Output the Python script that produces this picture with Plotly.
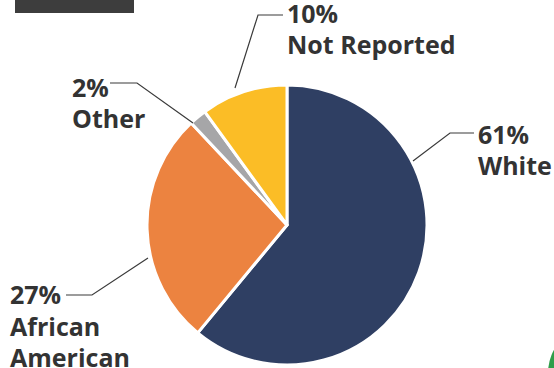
import plotly.graph_objects as go

W, H = 554, 368

# data
groups = ["White", "African American", "Other", "Not Reported"]
shares = [61, 27, 2, 10]
slice_colors = ["#2f3f63", "#ec8340", "#a6a6a8", "#fbbd26"]

# label lines, left x of each label and the vertical centre of each line (pixels)
label_lines = [["61%", "White"], ["27%", "African", "American"], ["2%", "Other"], ["10%", "Not Reported"]]
label_x = [477, 9, 71, 286]
label_y = [[135, 166], [295, 327, 358], [88, 119], [14, 45]]

# leader lines (pixels)
leaders = [
    [(413, 161), (450, 133), (474, 133)],
    [(148, 258), (92, 295), (66, 295)],
    [(193, 123), (137, 83), (110, 83)],
    [(235, 88), (258, 15), (283, 15)],
]


def px(x):
    return x / W


def py(y):
    return 1 - y / H


fig = go.Figure()

fig.add_trace(go.Pie(
    labels=groups,
    values=shares,
    sort=False,
    direction="clockwise",
    rotation=0,
    marker=dict(colors=slice_colors, line=dict(color="white", width=3)),
    textinfo="none",
    hoverinfo="label+percent",
    domain=dict(x=[px(147), px(427)], y=[py(365), py(85)]),
    showlegend=False,
))

shapes = []
for pts in leaders:
    path = "M " + " L ".join(f"{px(x)},{py(y)}" for x, y in pts)
    shapes.append(dict(type="path", xref="paper", yref="paper", path=path,
                       line=dict(color="#3a3a3a", width=1.2)))

# cropped bits from the original graphic
shapes.append(dict(type="rect", xref="paper", yref="paper",
                   x0=px(15), x1=px(134), y0=py(13), y1=1.0,
                   fillcolor="#3d3d3d", line=dict(width=0)))
shapes.append(dict(type="circle", xref="paper", yref="paper",
                   x0=px(548), x1=px(640), y0=py(420), y1=py(326),
                   fillcolor="#2f9e4a", line=dict(width=0)))

annotations = []
for lines, x, ys in zip(label_lines, label_x, label_y):
    for txt, y in zip(lines, ys):
        annotations.append(dict(
            text=txt, x=px(x), y=py(y - 1), xref="paper", yref="paper",
            xanchor="left", yanchor="middle", align="left", showarrow=False,
            borderpad=0,
            font=dict(family="Open Sans", size=25, color="#333333", weight=700),
        ))

fig.update_layout(
    width=W, height=H,
    margin=dict(l=0, r=0, t=0, b=0),
    paper_bgcolor="white",
    plot_bgcolor="white",
    shapes=shapes,
    annotations=annotations,
)

fig.write_html("out.html", config={"displayModeBar": False},
               post_script="document.body.style.margin='0';")
